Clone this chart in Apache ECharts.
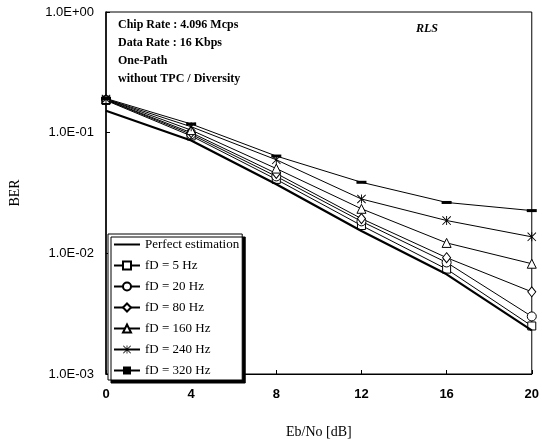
<!DOCTYPE html>
<html>
<head>
<meta charset="utf-8">
<script src="https://cdn.jsdelivr.net/npm/echarts@6/dist/echarts.min.js"></script>
<style>
  html, body { margin: 0; padding: 0; background: #fff; }
  #chart { width: 542px; height: 444px; }
</style>
</head>
<body>
<div id="chart"></div>
<script>
// Eb/No points (dB)
const ebNo = [0, 4, 8, 12, 16, 20]
const yTicks = [0.001, 0.01, 0.1, 1]

// BER
const perfect = [0.152, 0.086, 0.0374, 0.0153, 0.0067, 0.0023]
const fd5 = [0.185, 0.094, 0.041, 0.017, 0.0074, 0.0025]
const fd20 = [0.187, 0.097, 0.0434, 0.0184, 0.0084, 0.003]
const fd80 = [0.188, 0.1, 0.0459, 0.0194, 0.0092, 0.0048]
const fd160 = [0.19, 0.105, 0.0504, 0.0234, 0.0122, 0.0082]
const fd240 = [0.19, 0.112, 0.0596, 0.0282, 0.0187, 0.0137]
const fd320 = [0.192, 0.118, 0.064, 0.0388, 0.0264, 0.0226]

const serif = '"Liberation Serif", "Times New Roman", serif'
const sans = '"Liberation Sans", Arial, sans-serif'

const starPath = 'path://M4.5,0 L5.5,0 L5.5,10 L4.5,10 Z M0.7,0 L10,9.3 L9.3,10 L0,0.7 Z M9.3,0 L10,0.7 L0.7,10 L0,9.3 Z'
const dashPath = 'path://M0,0 L10,0 L10,3 L0,3 Z'

function pairs(arr) {
  return ebNo.map((x, i) => [x, arr[i]])
}

function fmtExp(v) {
  const e = Math.round(Math.log10(v))
  const s = e < 0 ? '-' : '+'
  return '1.0E' + s + String(Math.abs(e)).padStart(2, '0')
}

function lineSeries(name, arr, symbol, size, filled) {
  return {
    name: name,
    type: 'line',
    data: pairs(arr),
    symbol: symbol,
    symbolSize: size,
    symbolKeepAspect: true,
    showSymbol: true,
    lineStyle: { color: '#000', width: 1 },
    itemStyle: filled
      ? { color: '#000', borderColor: '#000', borderWidth: 0 }
      : { color: '#fff', borderColor: '#000', borderWidth: 1 },
    z: 3
  }
}

const chart = echarts.init(document.getElementById('chart'))
chart.setOption({
  animation: false,
  backgroundColor: '#fff',
  grid: {
    left: 104,
    right: 8,
    top: 12,
    bottom: 62,
    show: true,
    borderColor: '#000',
    borderWidth: 1
  },
  legend: {
    orient: 'vertical',
    left: 108,
    top: 234,
    padding: [4, 3, 3, 5],
    itemWidth: 26,
    itemHeight: 10,
    itemGap: 8,
    backgroundColor: '#fff',
    borderColor: '#000',
    borderWidth: 1,
    shadowColor: '#000',
    shadowBlur: 0,
    shadowOffsetX: 3,
    shadowOffsetY: 3,
    textStyle: { fontFamily: serif, fontSize: 13, color: '#000' },
    data: ['Perfect estimation', 'fD = 5 Hz', 'fD = 20 Hz', 'fD = 80 Hz', 'fD = 160 Hz', 'fD = 240 Hz', 'fD = 320 Hz']
  },
  xAxis: {
    type: 'value',
    min: 0,
    max: 20,
    interval: 4,
    name: 'Eb/No [dB]',
    nameLocation: 'middle',
    nameGap: 51,
    nameTextStyle: { fontFamily: serif, fontSize: 14, color: '#000' },
    axisLine: { lineStyle: { color: '#000', width: 1 } },
    axisTick: { inside: true, length: 4, lineStyle: { color: '#000' } },
    axisLabel: { fontFamily: sans, fontSize: 13, fontWeight: 'bold', color: '#000', margin: 14 },
    splitLine: { show: false }
  },
  yAxis: {
    type: 'log',
    logBase: 10,
    min: yTicks[0],
    max: yTicks[yTicks.length - 1],
    name: 'BER',
    nameLocation: 'middle',
    nameGap: 84,
    nameTextStyle: { fontFamily: serif, fontSize: 14, color: '#000' },
    axisLine: { show: true, lineStyle: { color: '#000', width: 1.5 } },
    axisTick: { inside: true, length: 4, lineStyle: { color: '#000' } },
    axisLabel: { fontFamily: sans, fontSize: 13, color: '#000', margin: 12, formatter: fmtExp },
    splitLine: { show: false }
  },
  graphic: [
    {
      type: 'text',
      left: 118,
      top: 16,
      style: {
        text: 'Chip Rate : 4.096 Mcps\nData Rate : 16 Kbps\nOne-Path\nwithout TPC / Diversity',
        font: 'bold 12px ' + serif,
        lineHeight: 18,
        fill: '#000'
      }
    },
    {
      type: 'text',
      left: 416,
      top: 23,
      style: {
        text: 'RLS',
        font: 'italic bold 12px ' + serif,
        fill: '#000'
      }
    }
  ],
  series: [
    {
      name: 'Perfect estimation',
      type: 'line',
      data: pairs(perfect),
      symbol: 'none',
      lineStyle: { color: '#000', width: 2.2 },
      itemStyle: { color: 'rgba(0,0,0,0)', borderColor: 'rgba(0,0,0,0)', borderWidth: 0 },
      z: 4
    },
    lineSeries('fD = 5 Hz', fd5, 'rect', 8, false),
    lineSeries('fD = 20 Hz', fd20, 'circle', 9, false),
    lineSeries('fD = 80 Hz', fd80, 'diamond', [8, 10], false),
    lineSeries('fD = 160 Hz', fd160, 'triangle', 9, false),
    lineSeries('fD = 240 Hz', fd240, starPath, 9, true),
    lineSeries('fD = 320 Hz', fd320, dashPath, 10, true)
  ]
})
</script>
</body>
</html>
